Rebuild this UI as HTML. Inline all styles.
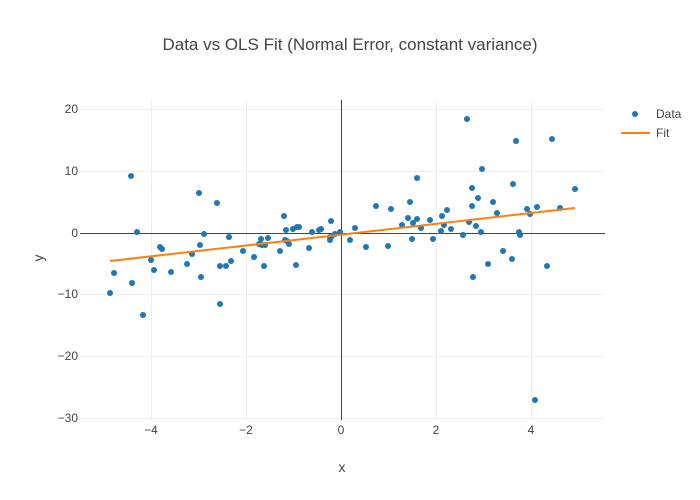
<!DOCTYPE html>
<html><head><style>body{margin:0;background:#fff}svg{display:block;font-family:"Liberation Sans",sans-serif}</style></head><body>
<svg width="700" height="500" xmlns="http://www.w3.org/2000/svg">
<rect width="700" height="500" fill="#fff"/>
<g stroke="#eee" stroke-width="1">
<line x1="80" x2="605" y1="109.5" y2="109.5"/><line x1="80" x2="605" y1="171.5" y2="171.5"/><line x1="80" x2="605" y1="294.5" y2="294.5"/><line x1="80" x2="605" y1="356.5" y2="356.5"/><line x1="80" x2="605" y1="418.5" y2="418.5"/>
<line x1="151.5" x2="151.5" y1="100" y2="420"/><line x1="246.5" x2="246.5" y1="100" y2="420"/><line x1="436.5" x2="436.5" y1="100" y2="420"/><line x1="531.5" x2="531.5" y1="100" y2="420"/>
</g>
<line x1="80" x2="605" y1="233.5" y2="233.5" stroke="#444"/>
<line x1="341.5" x2="341.5" y1="100" y2="420" stroke="#444"/>
<g font-size="12" fill="#444" text-anchor="end">
<text x="78" y="113">20</text><text x="78" y="175">10</text><text x="78" y="237">0</text><text x="78" y="298">−10</text><text x="78" y="360">−20</text><text x="78" y="422">−30</text>
</g>
<g font-size="12" fill="#444" text-anchor="middle">
<text x="151" y="434">−4</text><text x="246" y="434">−2</text><text x="341" y="434">0</text><text x="436" y="434">2</text><text x="531" y="434">4</text>
</g>
<text x="342" y="472" font-size="14" fill="#444" text-anchor="middle">x</text>
<text x="43" y="258" font-size="14" fill="#444" text-anchor="middle" transform="rotate(-90 43 258)">y</text>
<text x="350" y="50" font-size="17" fill="#444" text-anchor="middle">Data vs OLS Fit (Normal Error, constant variance)</text>
<g fill="#1f77b4">
<circle cx="110" cy="293" r="3"/><circle cx="114" cy="273" r="3"/><circle cx="131" cy="176" r="3"/><circle cx="132" cy="283" r="3"/><circle cx="137" cy="232" r="3"/><circle cx="143" cy="315" r="3"/><circle cx="151" cy="260" r="3"/><circle cx="154" cy="270" r="3"/><circle cx="160" cy="247" r="3"/><circle cx="162" cy="249" r="3"/><circle cx="171" cy="272" r="3"/><circle cx="187" cy="264" r="3"/><circle cx="192" cy="254" r="3"/><circle cx="199" cy="193" r="3"/><circle cx="200" cy="245" r="3"/><circle cx="201" cy="277" r="3"/><circle cx="204" cy="234" r="3"/><circle cx="217" cy="203" r="3"/><circle cx="220" cy="266" r="3"/><circle cx="220" cy="304" r="3"/><circle cx="226" cy="266" r="3"/><circle cx="229" cy="237" r="3"/><circle cx="231" cy="261" r="3"/><circle cx="243" cy="251" r="3"/><circle cx="254" cy="257" r="3"/><circle cx="259" cy="244" r="3"/><circle cx="261" cy="239" r="3"/><circle cx="262" cy="245" r="3"/><circle cx="264" cy="266" r="3"/><circle cx="265" cy="245" r="3"/><circle cx="268" cy="238" r="3"/><circle cx="280" cy="251" r="3"/><circle cx="284" cy="216" r="3"/><circle cx="285" cy="240" r="3"/><circle cx="286" cy="230" r="3"/><circle cx="287" cy="241" r="3"/><circle cx="289" cy="244" r="3"/><circle cx="293" cy="229" r="3"/><circle cx="296" cy="265" r="3"/><circle cx="297" cy="227" r="3"/><circle cx="299" cy="227" r="3"/><circle cx="309" cy="248" r="3"/><circle cx="312" cy="232" r="3"/><circle cx="319" cy="230" r="3"/><circle cx="321" cy="229" r="3"/><circle cx="330" cy="240" r="3"/><circle cx="330" cy="237" r="3"/><circle cx="331" cy="221" r="3"/><circle cx="332" cy="236" r="3"/><circle cx="335" cy="234" r="3"/><circle cx="340" cy="232" r="3"/><circle cx="350" cy="240" r="3"/><circle cx="355" cy="228" r="3"/><circle cx="366" cy="247" r="3"/><circle cx="376" cy="206" r="3"/><circle cx="388" cy="246" r="3"/><circle cx="391" cy="209" r="3"/><circle cx="402" cy="225" r="3"/><circle cx="408" cy="218" r="3"/><circle cx="410" cy="202" r="3"/><circle cx="412" cy="239" r="3"/><circle cx="413" cy="223" r="3"/><circle cx="417" cy="178" r="3"/><circle cx="417" cy="219" r="3"/><circle cx="421" cy="228" r="3"/><circle cx="430" cy="220" r="3"/><circle cx="433" cy="239" r="3"/><circle cx="441" cy="231" r="3"/><circle cx="442" cy="216" r="3"/><circle cx="444" cy="225" r="3"/><circle cx="447" cy="210" r="3"/><circle cx="451" cy="229" r="3"/><circle cx="463" cy="235" r="3"/><circle cx="467" cy="119" r="3"/><circle cx="469" cy="222" r="3"/><circle cx="472" cy="188" r="3"/><circle cx="472" cy="206" r="3"/><circle cx="473" cy="277" r="3"/><circle cx="476" cy="226" r="3"/><circle cx="478" cy="198" r="3"/><circle cx="481" cy="232" r="3"/><circle cx="482" cy="169" r="3"/><circle cx="488" cy="264" r="3"/><circle cx="493" cy="202" r="3"/><circle cx="497" cy="213" r="3"/><circle cx="503" cy="251" r="3"/><circle cx="512" cy="259" r="3"/><circle cx="513" cy="184" r="3"/><circle cx="516" cy="141" r="3"/><circle cx="519" cy="232" r="3"/><circle cx="520" cy="235" r="3"/><circle cx="527" cy="209" r="3"/><circle cx="530" cy="214" r="3"/><circle cx="535" cy="400" r="3"/><circle cx="537" cy="207" r="3"/><circle cx="547" cy="266" r="3"/><circle cx="552" cy="139" r="3"/><circle cx="560" cy="208" r="3"/><circle cx="575" cy="189" r="3"/>
</g>
<line x1="110" y1="261" x2="575" y2="208" stroke="#ff7f0e" stroke-width="2"/>
<circle cx="635" cy="114" r="3" fill="#1f77b4"/>
<text x="656" y="118" font-size="12" fill="#444">Data</text>
<line x1="621" x2="650" y1="133" y2="133" stroke="#ff7f0e" stroke-width="2"/>
<text x="656" y="137" font-size="12" fill="#444">Fit</text>
</svg>
</body></html>
